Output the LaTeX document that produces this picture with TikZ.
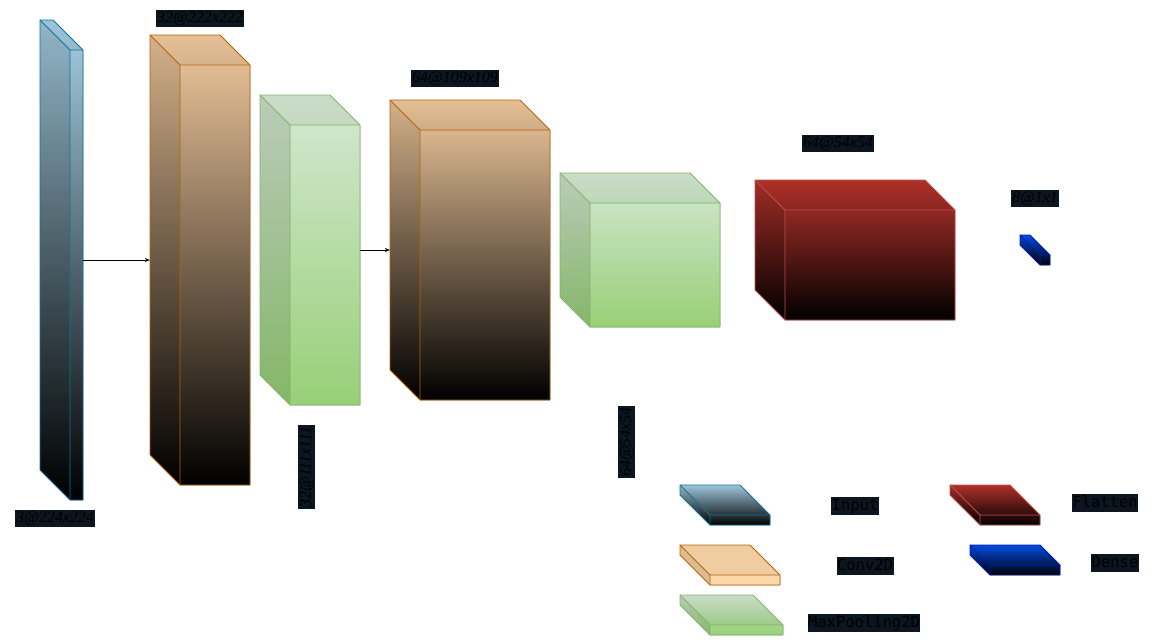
\documentclass[tikz,border=0pt]{standalone}
\usepackage{fontspec}
\usepackage{tikz}
\usetikzlibrary{calc}
\usetikzlibrary{positioning}
\usetikzlibrary{arrows.meta}
\usetikzlibrary{fit}
\newfontfamily\dimfont{Liberation Serif}
\newfontfamily\legfont{DejaVu Sans Mono}
\definecolor{labelbg}{HTML}{0C1520}
\definecolor{inputtop}{HTML}{A6D0E4}
\definecolor{inputline}{HTML}{10739E}
\definecolor{convtop}{HTML}{F2CA9E}
\definecolor{convflat}{HTML}{FCD7AA}
\definecolor{convline}{HTML}{B46504}
\definecolor{pooltop}{HTML}{D5E8D4}
\definecolor{poolbot}{HTML}{97D077}
\definecolor{poolline}{HTML}{82B366}
\definecolor{flattop}{HTML}{B8332B}
\definecolor{flatline}{HTML}{C0504D}
\definecolor{densetop}{HTML}{0050EF}
\definecolor{denseline}{HTML}{001DBC}
% name, x1, y1, x2, y2, depth, top colour, bottom colour, stroke
\newcommand{\layercube}[9]{%
  \pgfmathsetmacro{\cubeXa}{#2+#6}
  \pgfmathsetmacro{\cubeXb}{#4-#6}
  \pgfmathsetmacro{\cubeYa}{#3+#6}
  \pgfmathsetmacro{\cubeYb}{#5-#6}
  \fill[top color=#7,bottom color=#8] (#2,#3) -- (\cubeXb,#3) -- (#4,\cubeYa) -- (#4,#5) -- (\cubeXa,#5) -- (#2,\cubeYb) -- cycle;
  \fill[black,opacity=0.12] (#2,#3) -- (\cubeXa,\cubeYa) -- (\cubeXa,#5) -- (#2,\cubeYb) -- cycle;
  \fill[black,opacity=0.05] (#2,#3) -- (\cubeXb,#3) -- (#4,\cubeYa) -- (\cubeXa,\cubeYa) -- cycle;
  \draw[#9,line width=0.8pt,line join=round] (#2,#3) -- (\cubeXb,#3) -- (#4,\cubeYa) -- (#4,#5) -- (\cubeXa,#5) -- (#2,\cubeYb) -- cycle;
  \draw[#9,line width=0.8pt] (#2,#3) -- (\cubeXa,\cubeYa) -- (#4,\cubeYa) (\cubeXa,\cubeYa) -- (\cubeXa,#5);
  \node[fit={(#2,#3)(#4,#5)},inner sep=0pt] (#1) {};
}

\begin{document}
\begin{tikzpicture}[x=1pt,y=-1pt]
\tikzstyle{dimlabel}=[fill=labelbg,text=black,font=\dimfont\itshape\fontsize{16}{16}\selectfont,inner xsep=1.5pt,inner ysep=2pt,text height=11pt,text depth=2pt]
\tikzstyle{leglabel}=[fill=labelbg,text=black,font=\legfont\fontsize{15.5}{16}\selectfont,inner xsep=0.5pt,inner ysep=2pt,text height=11pt,text depth=3pt]
\tikzstyle{flow}=[-{Stealth[length=5pt,width=4pt]},line width=0.5pt,black]
\useasboundingbox (0,0) rectangle (1171,641);

% layers
\layercube{input}{40}{20}{83}{500}{30}{inputtop}{black}{inputline}
\layercube{convA}{150}{35}{250}{485}{30}{convtop}{black}{convline}
\layercube{poolA}{260}{95}{360}{405}{30}{pooltop}{poolbot}{poolline}
\layercube{convB}{390}{100}{550}{400}{30}{convtop}{black}{convline}
\layercube{poolB}{560}{173}{720}{327}{30}{pooltop}{poolbot}{poolline}
\layercube{flat}{755}{180}{955}{320}{30}{flattop}{black}{flatline}
\layercube{dense}{1020}{235}{1050}{265}{20}{densetop}{black}{denseline}

\draw[flow] (input) -- (convA);
\draw[flow] (poolA) -- (convB);

% sizes
\node[dimlabel] at (55,518) (sizeinput) {3@224x224};
\node[dimlabel] at (200,18) (sizeconvA) {32@222x222};
\node[dimlabel,rotate=90] at (306,467) (sizepoolA) {32@111x111};
\node[dimlabel] at (455,78) (sizeconvB) {64@109x109};
\node[dimlabel,rotate=90] at (626,442) (sizepoolB) {64@54x54};
\node[dimlabel] at (838,143) (sizeflat) {64@54x54};
\node[dimlabel] at (1035,198) (sizedense) {8@1x1};

% legend
\layercube{leginput}{680}{485}{770}{525}{30}{inputtop}{black}{inputline}
\layercube{legconv}{680}{545}{780}{585}{30}{convflat}{convflat}{convline}
\layercube{legpool}{680}{595}{783}{635}{30}{pooltop}{poolbot}{poolline}
\layercube{legflat}{950}{485}{1040}{525}{30}{flattop}{black}{flatline}
\layercube{legdense}{970}{545}{1060}{575}{20}{densetop}{black}{denseline}
\node[leglabel] at (855,506) (txtinput) {Input};
\node[leglabel] at (865,566) (txtconv) {Conv2D};
\node[leglabel] at (864,623) (txtpool) {MaxPooling2D};
\node[leglabel] at (1105,503) (txtflat) {Flatten};
\node[leglabel] at (1115,563) (txtdense) {Dense};
\end{tikzpicture}
\end{document}
